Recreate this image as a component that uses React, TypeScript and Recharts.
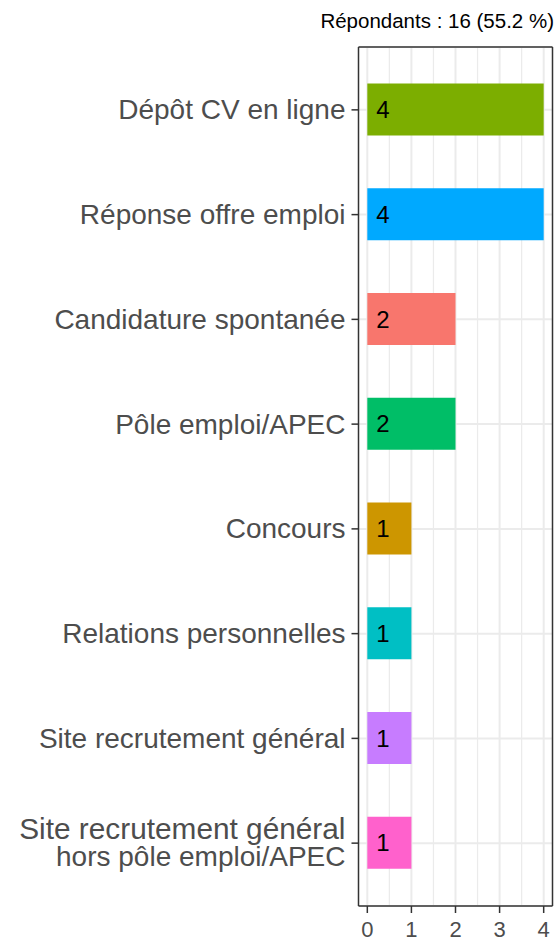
import React from 'react';
import { BarChart, Bar, XAxis, YAxis, CartesianGrid, Cell, LabelList } from 'recharts';

const categories = [
  'Dépôt CV en ligne',
  'Réponse offre emploi',
  'Candidature spontanée',
  'Pôle emploi/APEC',
  'Concours',
  'Relations personnelles',
  'Site recrutement général',
  'Site recrutement général\nhors pôle emploi/APEC',
];
const counts = [4, 4, 2, 2, 1, 1, 1, 1];
const barColors = ['#7CAE00', '#00A9FF', '#F8766D', '#00BE67', '#CD9600', '#00BFC4', '#C77CFF', '#FF61CC'];
const xTicks = [0, 1, 2, 3, 4];
const xMinorTicks = [0.5, 1.5, 2.5, 3.5];
const xDomain = [-0.2, 4.2];
const title = 'Répondants : 16 (55.2 %)';

const data = categories.map((name, i) => ({ name, value: counts[i] }));

const FONT = '"Liberation Sans", Arial, Helvetica, sans-serif';
const BORDER = { stroke: '#333333', strokeWidth: 1.5 };

function YTick(props: any) {
  const { x, y, payload } = props;
  const lines = String(payload.value).split('\n');
  const fs = 28;
  const lh = 26.4;
  const first = 0.34 * fs - ((lines.length - 1) * lh) / 2;
  return (
    <text x={x} y={y} textAnchor="end" fill="#4D4D4D" fontSize={fs} fontFamily={FONT}>
      {lines.map((l, i) => (
        <tspan
          key={i}
          x={x}
          dy={i === 0 ? first : lh}
          fontSize={lines.length > 1 && i === 0 ? 29.8 : fs}
        >
          {l}
        </tspan>
      ))}
    </text>
  );
}

export default function App() {
  return (
    <div style={{ position: 'absolute', left: 0, top: 0, width: 555, height: 942, background: '#fff' }}>
      <div
        style={{
          position: 'absolute',
          left: 0,
          top: 11,
          width: 554,
          textAlign: 'right',
          fontFamily: FONT,
          fontSize: 20.5,
          lineHeight: '20px',
          color: '#000',
          whiteSpace: 'nowrap',
        }}
      >
        {title}
      </div>
      <BarChart
        width={555}
        height={942}
        data={data}
        layout="vertical"
        margin={{ top: 46, right: 1.5, bottom: 0, left: 0.5 }}
        barSize={52}
      >
        <CartesianGrid
          verticalValues={xMinorTicks}
          horizontal={false}
          stroke="#EBEBEB"
          strokeWidth={1.2}
        />
        <CartesianGrid
          verticalValues={xTicks}
          horizontal={true}
          stroke="#EBEBEB"
          strokeWidth={2}
        />
        <XAxis
          type="number"
          domain={xDomain}
          ticks={xTicks}
          allowDataOverflow
          height={36}
          axisLine={BORDER}
          tickSize={7}
          tickMargin={8}
          tickLine={BORDER}
          tick={{ fill: '#4D4D4D', fontSize: 22, fontFamily: FONT }}
        />
        <XAxis
          xAxisId="top"
          orientation="top"
          type="number"
          domain={xDomain}
          allowDataOverflow
          height={1}
          tick={false}
          tickLine={false}
          axisLine={BORDER}
        />
        <YAxis
          type="category"
          dataKey="name"
          width={358}
          padding={{ top: 10.48, bottom: 10.48 }}
          axisLine={BORDER}
          tickSize={7}
          tickMargin={6}
          tickLine={BORDER}
          tick={<YTick />}
          interval={0}
        />
        <YAxis
          yAxisId="right"
          orientation="right"
          type="number"
          domain={[0, 1]}
          allowDataOverflow
          width={1}
          tick={false}
          tickLine={false}
          axisLine={BORDER}
        />
        <Bar dataKey="value" isAnimationActive={false}>
          {data.map((d, i) => (
            <Cell key={d.name} fill={barColors[i]} />
          ))}
          <LabelList
            dataKey="value"
            position="insideLeft"
            offset={9}
            fill="#000"
            fontSize={24}
            fontFamily={FONT}
          />
        </Bar>
      </BarChart>
    </div>
  );
}
